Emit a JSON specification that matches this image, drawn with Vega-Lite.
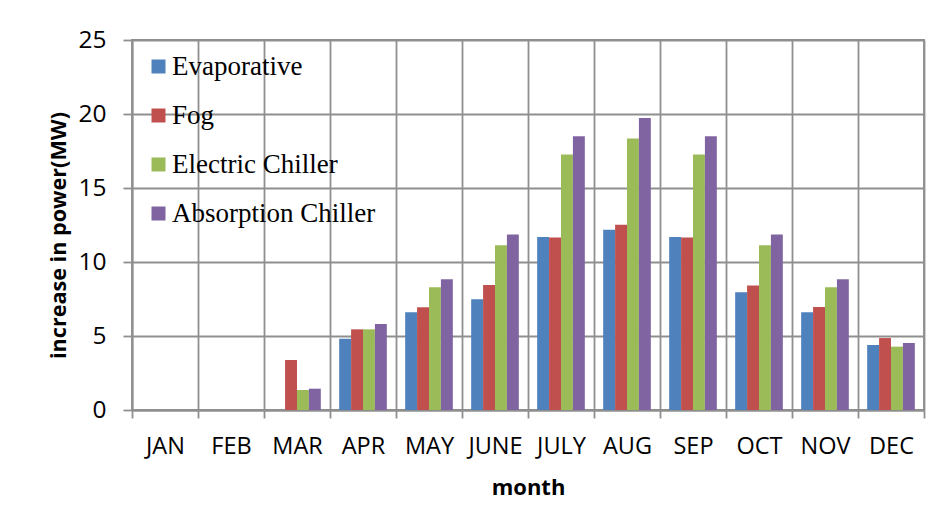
{
  "$schema": "https://vega.github.io/schema/vega-lite/v6.json",
  "width": 792,
  "height": 370,
  "autosize": {"type": "none"},
  "padding": {"left": 132, "top": 40, "right": 26, "bottom": 116},
  "background": "white",
  "config": {
    "view": {"stroke": "#8f8f8f", "strokeWidth": 1.8},
    "font": "Open Sans"
  },
  "data": {
    "values": [
      {"month": "JAN", "type": "Evaporative", "value": 0},
      {"month": "JAN", "type": "Fog", "value": 0},
      {"month": "JAN", "type": "Electric Chiller", "value": 0},
      {"month": "JAN", "type": "Absorption Chiller", "value": 0},
      {"month": "FEB", "type": "Evaporative", "value": 0},
      {"month": "FEB", "type": "Fog", "value": 0},
      {"month": "FEB", "type": "Electric Chiller", "value": 0},
      {"month": "FEB", "type": "Absorption Chiller", "value": 0},
      {"month": "MAR", "type": "Evaporative", "value": 0},
      {"month": "MAR", "type": "Fog", "value": 3.38},
      {"month": "MAR", "type": "Electric Chiller", "value": 1.35},
      {"month": "MAR", "type": "Absorption Chiller", "value": 1.44},
      {"month": "APR", "type": "Evaporative", "value": 4.82},
      {"month": "APR", "type": "Fog", "value": 5.45},
      {"month": "APR", "type": "Electric Chiller", "value": 5.45},
      {"month": "APR", "type": "Absorption Chiller", "value": 5.81},
      {"month": "MAY", "type": "Evaporative", "value": 6.6},
      {"month": "MAY", "type": "Fog", "value": 6.94},
      {"month": "MAY", "type": "Electric Chiller", "value": 8.29},
      {"month": "MAY", "type": "Absorption Chiller", "value": 8.83},
      {"month": "JUNE", "type": "Evaporative", "value": 7.48},
      {"month": "JUNE", "type": "Fog", "value": 8.45},
      {"month": "JUNE", "type": "Electric Chiller", "value": 11.13},
      {"month": "JUNE", "type": "Absorption Chiller", "value": 11.85},
      {"month": "JULY", "type": "Evaporative", "value": 11.69},
      {"month": "JULY", "type": "Fog", "value": 11.65},
      {"month": "JULY", "type": "Electric Chiller", "value": 17.27},
      {"month": "JULY", "type": "Absorption Chiller", "value": 18.49},
      {"month": "AUG", "type": "Evaporative", "value": 12.18},
      {"month": "AUG", "type": "Fog", "value": 12.52},
      {"month": "AUG", "type": "Electric Chiller", "value": 18.35},
      {"month": "AUG", "type": "Absorption Chiller", "value": 19.73},
      {"month": "SEP", "type": "Evaporative", "value": 11.69},
      {"month": "SEP", "type": "Fog", "value": 11.65},
      {"month": "SEP", "type": "Electric Chiller", "value": 17.27},
      {"month": "SEP", "type": "Absorption Chiller", "value": 18.49},
      {"month": "OCT", "type": "Evaporative", "value": 7.95},
      {"month": "OCT", "type": "Fog", "value": 8.42},
      {"month": "OCT", "type": "Electric Chiller", "value": 11.13},
      {"month": "OCT", "type": "Absorption Chiller", "value": 11.85},
      {"month": "NOV", "type": "Evaporative", "value": 6.6},
      {"month": "NOV", "type": "Fog", "value": 6.96},
      {"month": "NOV", "type": "Electric Chiller", "value": 8.29},
      {"month": "NOV", "type": "Absorption Chiller", "value": 8.83},
      {"month": "DEC", "type": "Evaporative", "value": 4.39},
      {"month": "DEC", "type": "Fog", "value": 4.86},
      {"month": "DEC", "type": "Electric Chiller", "value": 4.28},
      {"month": "DEC", "type": "Absorption Chiller", "value": 4.53}
    ]
  },
  "mark": {"type": "bar"},
  "encoding": {
    "x": {
      "field": "month",
      "type": "nominal",
      "sort": ["JAN", "FEB", "MAR", "APR", "MAY", "JUNE", "JULY", "AUG", "SEP", "OCT", "NOV", "DEC"],
      "scale": {"paddingInner": 0, "paddingOuter": 0},
      "axis": {
        "title": "month",
        "titleFont": "Open Sans",
        "titleFontSize": 22,
        "titleFontWeight": "bold",
        "titleColor": "black",
        "titleBaseline": "alphabetic",
        "titleY": 84,
        "titleX": 396,
        "labelAngle": 0,
        "labelFont": "Open Sans",
        "labelFontSize": 23.5,
        "labelColor": "black",
        "labelBaseline": "alphabetic",
        "labelPadding": 35,
        "tickBand": "extent",
        "tickSize": 8,
        "tickColor": "#8f8f8f",
        "tickWidth": 1.8,
        "grid": true,
        "gridColor": "#8f8f8f",
        "gridWidth": 1.8,
        "gridOpacity": 1,
        "domainColor": "#8f8f8f",
        "domainWidth": 1.8
      }
    },
    "xOffset": {
      "field": "type",
      "type": "nominal",
      "sort": ["Evaporative", "Fog", "Electric Chiller", "Absorption Chiller"],
      "scale": {"paddingInner": 0, "paddingOuter": 0.77}
    },
    "y": {
      "field": "value",
      "type": "quantitative",
      "scale": {"domain": [0, 25], "nice": false},
      "axis": {
        "title": "increase in power(MW)",
        "titleFont": "Open Sans",
        "titleFontSize": 21.6,
        "titleFontWeight": "bold",
        "titleColor": "black",
        "titleAngle": -90,
        "titleBaseline": "alphabetic",
        "titleAlign": "center",
        "titleX": -67,
        "titleY": 195,
        "values": [0, 5, 10, 15, 20, 25],
        "labelFont": "Open Sans",
        "labelFontSize": 24.5,
        "labelColor": "black",
        "labelPadding": 17,
        "tickSize": 9,
        "tickColor": "#8f8f8f",
        "tickWidth": 1.8,
        "grid": true,
        "gridColor": "#8f8f8f",
        "gridWidth": 1.8,
        "gridOpacity": 1,
        "domainColor": "#8f8f8f",
        "domainWidth": 1.8
      }
    },
    "color": {
      "field": "type",
      "type": "nominal",
      "sort": ["Evaporative", "Fog", "Electric Chiller", "Absorption Chiller"],
      "scale": {
        "domain": ["Evaporative", "Fog", "Electric Chiller", "Absorption Chiller"],
        "range": ["#4F81BD", "#C0504D", "#9BBB59", "#8064A2"]
      },
      "legend": {
        "title": null,
        "orient": "none",
        "legendX": 13,
        "legendY": 13,
        "padding": 0,
        "symbolType": "square",
        "symbolSize": 196,
        "symbolStrokeWidth": 0,
        "symbolOpacity": 1,
        "labelFont": "Liberation Serif",
        "labelFontSize": 27,
        "labelColor": "black",
        "labelOffset": 0,
        "labelBaseline": "middle",
        "rowPadding": 21,
        "labelLimit": 400
      }
    }
  }
}
